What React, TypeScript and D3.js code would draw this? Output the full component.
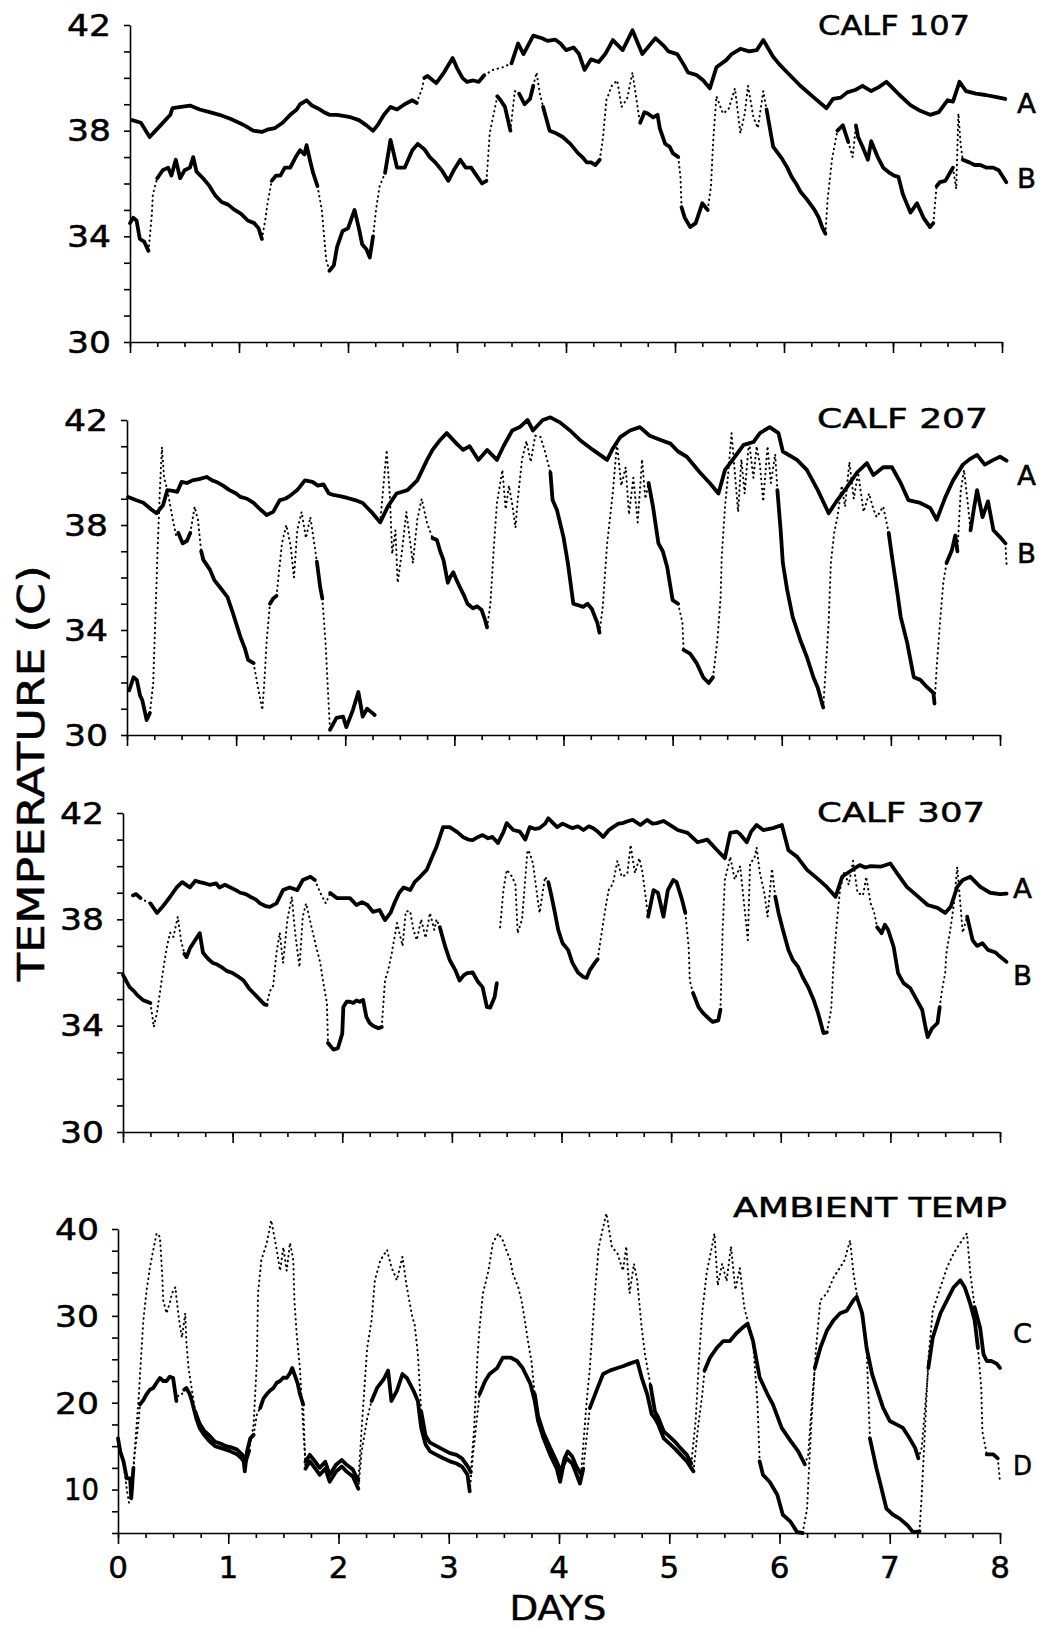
import React, { useRef, useEffect } from "react";
import * as d3 from "d3";

type Pt = [number, number];
type Seg = { k: "s" | "d"; p: Pt[] };

// s = continuous trace, d = sparse dotted trace (fast changes)
const S = (...p: Pt[]): Seg => ({ k: "s", p });
const D = (...p: Pt[]): Seg => ({ k: "d", p });

const days = [0, 1, 2, 3, 4, 5, 6, 7, 8];
const calfTicks = [42, 38, 34, 30];
const ambientTicks = [40, 30, 20, 10];

const calf107A: Seg[] = [
  S([0.02,38.4],[0.1,38.3],[0.18,37.76],[0.28,38.2],[0.37,38.6],[0.39,38.85],[0.47,38.9],[0.55,38.95],[0.64,38.8],[0.73,38.7],[0.82,38.6],[0.92,38.45],[1.0,38.3],[1.05,38.2],[1.13,38.0],[1.21,37.95],[1.27,38.05],[1.33,38.1],[1.4,38.3],[1.47,38.6],[1.53,38.8],[1.56,39.0],[1.62,39.15],[1.67,38.95],[1.72,38.85],[1.78,38.7],[1.83,38.6],[1.9,38.6],[1.97,38.55],[2.03,38.5],[2.1,38.4],[2.17,38.2],[2.23,38.0],[2.27,38.2],[2.33,38.6],[2.39,38.9],[2.45,38.8],[2.52,39.0],[2.59,39.15],[2.63,39.05]),
  D([2.63,39.05],[2.68,39.6],[2.7,40.0]),
  S([2.7,40.0],[2.73,40.07],[2.78,39.9],[2.81,39.8],[2.88,40.2],[2.96,40.75],[3.0,40.37],[3.05,40.0],[3.09,39.85],[3.15,39.9],[3.2,39.85],[3.25,40.1]),
  D([3.25,40.1],[3.33,40.3],[3.42,40.4],[3.5,40.55]),
  S([3.5,40.55],[3.56,41.3],[3.61,40.9],[3.7,41.6],[3.78,41.5],[3.83,41.4],[3.9,41.45],[3.95,41.3],[4.0,41.05],[4.07,41.15],[4.12,40.9],[4.17,40.3],[4.23,40.7],[4.3,40.6],[4.36,40.9],[4.43,41.43],[4.52,41.05],[4.61,41.8],[4.7,40.9],[4.76,41.2],[4.82,41.5],[4.9,41.2],[4.94,41.0],[5.02,40.9],[5.08,40.5],[5.12,40.2],[5.2,40.1],[5.26,39.9],[5.32,39.6],[5.38,40.4],[5.47,40.67],[5.52,40.9],[5.6,41.1],[5.68,41.0],[5.75,41.05],[5.81,41.43],[5.9,40.8],[5.96,40.5],[6.03,40.2],[6.15,39.7],[6.27,39.27],[6.39,38.85],[6.45,39.2],[6.52,39.25],[6.58,39.45],[6.66,39.55],[6.72,39.7],[6.8,39.5],[6.87,39.65],[6.94,39.85],[7.0,39.6],[7.06,39.35],[7.16,38.97],[7.25,38.75],[7.34,38.6],[7.42,38.7],[7.5,39.15],[7.55,39.1],[7.61,39.85],[7.67,39.5],[7.76,39.4],[7.85,39.35],[7.95,39.27],[8.03,39.2]),
];

const calf107B: Seg[] = [
  S([0.0,34.5],[0.03,34.7],[0.06,34.6],[0.09,33.9],[0.13,33.8],[0.17,33.45]),
  D([0.17,33.45],[0.2,34.8],[0.21,35.6],[0.25,36.2]),
  S([0.25,36.2],[0.3,36.5],[0.35,36.6],[0.38,36.3],[0.42,36.9],[0.46,36.2],[0.5,36.5],[0.55,36.6],[0.58,37.0],[0.61,36.45],[0.67,36.2],[0.73,35.9],[0.78,35.56],[0.84,35.3],[0.9,35.2],[0.96,35.0],[1.02,34.85],[1.08,34.6],[1.14,34.5],[1.18,34.3],[1.21,33.9]),
  D([1.21,33.9],[1.24,34.6],[1.26,35.2],[1.3,36.1]),
  S([1.3,36.1],[1.34,36.3],[1.38,36.3],[1.42,36.6],[1.47,36.6],[1.52,37.0],[1.56,37.26],[1.6,37.1],[1.62,37.45],[1.65,36.9],[1.68,36.4],[1.72,35.9]),
  D([1.72,35.9],[1.76,35.0],[1.8,33.1],[1.83,32.7]),
  S([1.83,32.7],[1.87,32.9],[1.9,33.6],[1.95,34.2],[2.0,34.3],[2.06,35.0],[2.1,34.3],[2.13,33.7],[2.17,33.5],[2.2,33.2],[2.23,34.0]),
  D([2.23,34.0],[2.26,35.1],[2.29,35.9],[2.34,36.4]),
  S([2.34,36.4],[2.39,37.65],[2.45,36.6],[2.52,36.6],[2.59,37.26],[2.64,37.5],[2.7,37.3],[2.75,37.0],[2.8,36.8],[2.86,36.5],[2.92,36.1],[2.97,36.5],[3.03,36.9],[3.08,36.6],[3.13,36.6],[3.18,36.3],[3.23,36.0],[3.27,36.1]),
  D([3.27,36.1],[3.29,37.26],[3.3,37.9],[3.33,38.5],[3.37,39.3]),
  S([3.37,39.3],[3.4,39.15],[3.44,38.9],[3.49,38.0]),
  D([3.49,38.0],[3.53,39.5],[3.57,39.4]),
  S([3.57,39.4],[3.62,39.0],[3.67,39.2],[3.7,39.7]),
  D([3.7,39.7],[3.73,40.2],[3.76,39.4],[3.79,38.9]),
  S([3.79,38.9],[3.85,38.0],[3.91,37.9],[3.97,37.76],[4.04,37.5],[4.11,37.15],[4.15,37.0],[4.19,36.8],[4.23,36.8],[4.27,36.7],[4.31,36.9]),
  D([4.31,36.9],[4.34,37.76],[4.37,39.15],[4.42,39.7],[4.47,39.9],[4.51,38.9],[4.56,39.2],[4.61,40.2],[4.66,38.8],[4.68,38.3]),
  S([4.68,38.3],[4.72,38.7],[4.75,38.65],[4.8,38.5],[4.84,38.6],[4.86,38.1],[4.91,37.5],[4.95,37.4],[4.98,37.15],[5.03,37.0]),
  D([5.03,37.0],[5.05,36.25],[5.06,35.1]),
  S([5.06,35.1],[5.09,34.7],[5.14,34.35],[5.19,34.5],[5.25,35.25],[5.3,35.0]),
  D([5.3,35.0],[5.33,35.9],[5.35,37.6],[5.38,39.3],[5.44,38.65],[5.49,38.8],[5.55,39.6],[5.6,37.9],[5.64,38.65],[5.67,39.7],[5.72,38.5],[5.76,38.1],[5.81,39.5],[5.84,38.8]),
  S([5.84,38.8],[5.9,37.4],[5.98,36.95],[6.03,36.6],[6.07,36.25],[6.11,36.0],[6.15,35.7],[6.21,35.4],[6.28,35.0],[6.32,34.7],[6.35,34.35],[6.38,34.1]),
  D([6.38,34.1],[6.4,35.4],[6.44,36.9],[6.49,38.0]),
  S([6.49,38.0],[6.54,38.2],[6.59,37.57]),
  D([6.59,37.57],[6.63,37.0],[6.66,38.2]),
  S([6.66,38.2],[6.68,37.76],[6.72,37.4],[6.77,36.9],[6.8,37.6],[6.83,37.3],[6.86,37.0],[6.91,36.6],[6.97,36.4],[7.01,36.3],[7.05,36.25],[7.09,35.6],[7.13,35.2],[7.16,34.9],[7.22,35.25],[7.28,34.7],[7.34,34.35],[7.37,34.5]),
  D([7.37,34.5],[7.4,35.9]),
  S([7.4,35.9],[7.43,36.05],[7.48,36.1],[7.55,36.6]),
  D([7.55,36.6],[7.58,35.8],[7.6,38.65],[7.62,37.5],[7.64,36.9]),
  S([7.64,36.9],[7.7,36.8],[7.75,36.7],[7.8,36.7],[7.86,36.6],[7.92,36.6],[7.97,36.5],[8.04,36.05]),
];

const calf207A: Seg[] = [
  S([0.01,39.07],[0.08,38.95],[0.15,38.85],[0.22,38.6],[0.27,38.45],[0.33,38.75],[0.37,39.33],[0.42,39.3],[0.46,39.26],[0.5,39.64],[0.55,39.6],[0.6,39.7],[0.66,39.75],[0.73,39.83],[0.78,39.7],[0.82,39.64],[0.88,39.5],[0.94,39.33],[1.0,39.2],[1.04,39.07],[1.1,39.0],[1.16,38.84],[1.22,38.6],[1.28,38.38],[1.34,38.5],[1.4,38.95],[1.45,39.0],[1.49,39.1],[1.56,39.33],[1.63,39.7],[1.7,39.64],[1.75,39.5],[1.8,39.55],[1.85,39.2],[1.89,39.15],[1.95,39.1],[2.02,39.03],[2.09,38.95],[2.16,38.84],[2.25,38.45],[2.32,38.1],[2.39,38.7],[2.47,39.2],[2.57,39.33],[2.66,39.7],[2.75,40.48],[2.8,40.86],[2.87,41.24],[2.93,41.5],[3.02,41.1],[3.08,40.86],[3.14,41.0],[3.22,40.48],[3.3,40.86],[3.39,40.48],[3.45,41.0],[3.53,41.6],[3.6,41.73],[3.67,42.0],[3.72,41.6],[3.81,42.0],[3.88,42.1],[3.97,41.9],[4.06,41.6],[4.15,41.24],[4.27,40.86],[4.4,40.48],[4.45,40.9],[4.52,41.35],[4.61,41.6],[4.7,41.73],[4.79,41.4],[4.89,41.24],[4.98,41.1],[5.05,40.8],[5.13,40.6],[5.25,40.0],[5.34,39.6],[5.42,39.2],[5.48,40.1],[5.55,40.48],[5.65,41.05],[5.74,41.16],[5.8,41.5],[5.89,41.73],[5.97,41.5],[6.01,40.8],[6.14,40.48],[6.23,40.1],[6.33,39.33],[6.43,38.45],[6.51,38.95],[6.6,39.45],[6.69,40.0],[6.78,40.36],[6.84,39.9],[6.93,40.2],[7.01,40.2],[7.09,39.6],[7.16,38.95],[7.27,38.84],[7.36,38.65],[7.42,38.2],[7.5,39.07],[7.57,39.7],[7.66,40.3],[7.72,40.5],[7.79,40.67],[7.86,40.3],[7.94,40.48],[8.0,40.6],[8.06,40.45]),
];

const calf207B: Seg[] = [
  S([0.02,31.7],[0.06,32.2],[0.09,32.1],[0.12,31.5],[0.14,31.33],[0.18,30.57],[0.21,30.84]),
  D([0.21,30.84],[0.24,31.98],[0.26,34.5],[0.28,37.0],[0.3,39.2],[0.32,40.97],[0.34,39.8],[0.37,39.33],[0.42,38.2],[0.45,37.6],[0.47,37.7]),
  S([0.47,37.7],[0.51,37.3],[0.55,37.4],[0.58,37.7]),
  D([0.58,37.7],[0.62,38.7],[0.65,38.2],[0.68,37.0]),
  S([0.68,37.0],[0.7,36.67],[0.76,36.3],[0.8,35.9],[0.85,35.64],[0.92,35.26],[0.97,34.65],[1.04,33.73],[1.08,33.3],[1.11,32.86],[1.16,32.74]),
  D([1.16,32.74],[1.2,31.83],[1.24,30.95],[1.26,32.1],[1.28,33.6],[1.31,35.0]),
  S([1.31,35.0],[1.34,35.2],[1.37,35.3]),
  D([1.37,35.3],[1.42,37.3],[1.46,38.0],[1.5,37.2],[1.53,36.0],[1.56,37.8],[1.6,38.5],[1.64,37.5],[1.68,38.3],[1.72,37.2],[1.74,36.6]),
  S([1.74,36.6],[1.77,35.64],[1.79,35.2]),
  D([1.79,35.2],[1.82,33.5],[1.84,31.8],[1.86,30.2]),
  S([1.86,30.2],[1.92,30.65],[1.98,30.7],[2.01,30.3],[2.07,30.95],[2.12,31.64],[2.16,30.7],[2.2,31.0],[2.23,30.9],[2.27,30.76]),
  D([2.32,38.1],[2.35,39.5],[2.38,40.86],[2.41,39.0],[2.43,36.9],[2.46,37.8],[2.48,35.8],[2.52,37.0],[2.56,38.5],[2.6,37.2],[2.62,36.55],[2.66,38.2],[2.7,39.0],[2.75,38.07],[2.8,37.5]),
  S([2.8,37.5],[2.84,37.43],[2.87,37.0],[2.9,36.67],[2.94,35.8],[2.96,36.0],[2.99,36.2],[3.02,35.9],[3.05,35.64],[3.09,35.3],[3.12,35.0],[3.17,34.83],[3.21,34.9],[3.25,34.76],[3.28,34.4],[3.3,34.1]),
  D([3.3,34.1],[3.33,35.0],[3.36,37.05],[3.39,38.84],[3.44,40.1],[3.47,38.6],[3.5,39.5],[3.53,38.8],[3.56,37.9],[3.58,38.95],[3.62,40.5],[3.66,41.2],[3.7,40.4],[3.74,41.4],[3.79,41.35],[3.83,40.8],[3.88,40.0]),
  S([3.88,40.0],[3.9,38.95],[3.94,38.57],[4.0,37.54],[4.04,36.55],[4.09,35.0],[4.13,34.95],[4.18,34.88],[4.22,35.0],[4.26,34.8],[4.31,34.27],[4.33,33.9]),
  D([4.33,33.9],[4.36,34.9],[4.4,37.3],[4.45,39.15],[4.49,41.1],[4.53,39.5],[4.57,40.2],[4.6,38.4],[4.64,39.8],[4.68,38.1],[4.72,40.5],[4.75,39.0],[4.78,39.6]),
  S([4.78,39.6],[4.82,38.7],[4.87,37.3],[4.91,37.0],[4.95,36.4],[5.0,35.14],[5.05,35.0]),
  D([5.05,35.0],[5.09,34.27],[5.1,33.24]),
  S([5.1,33.24],[5.16,33.1],[5.22,32.74],[5.28,32.2],[5.33,31.98],[5.37,32.2]),
  D([5.37,32.2],[5.41,33.6],[5.44,35.26],[5.45,36.8],[5.48,38.7],[5.51,40.0],[5.54,41.5],[5.57,40.0],[5.6,38.5],[5.63,40.5],[5.66,39.2],[5.7,41.2],[5.74,39.8],[5.77,41.0],[5.8,40.3],[5.83,38.9],[5.87,41.0],[5.9,39.6],[5.94,40.7],[5.96,39.33]),
  S([5.96,39.33],[5.99,37.8],[6.01,36.55],[6.05,35.52],[6.1,34.5],[6.17,33.62],[6.23,32.97],[6.29,32.2],[6.33,31.8],[6.38,31.05]),
  D([6.38,31.05],[6.41,32.97],[6.43,34.3],[6.45,36.55],[6.48,37.7],[6.51,38.3],[6.55,39.5],[6.58,38.7],[6.62,40.4],[6.66,39.0],[6.7,40.0],[6.75,38.5],[6.8,39.2],[6.84,38.6],[6.87,38.3],[6.93,38.7],[6.98,37.7]),
  S([6.98,37.7],[7.01,36.8],[7.06,35.4],[7.09,34.5],[7.15,33.5],[7.21,32.2],[7.27,32.1],[7.33,31.83],[7.39,31.6],[7.4,31.2]),
  D([7.4,31.2],[7.42,32.6],[7.45,34.27],[7.48,35.8],[7.51,36.55]),
  S([7.51,36.55],[7.56,37.05],[7.59,37.6],[7.61,37.0]),
  D([7.61,37.0],[7.64,39.3],[7.67,40.1],[7.7,39.0],[7.73,37.8]),
  S([7.73,37.8],[7.76,38.6],[7.79,39.33],[7.84,38.3],[7.89,38.9],[7.94,37.8],[8.0,37.54],[8.05,37.3]),
  D([8.05,37.3],[8.06,36.5]),
];

const calf307A: Seg[] = [
  S([0.09,38.9],[0.12,38.95],[0.16,38.8]),
  D([0.16,38.8],[0.2,38.7],[0.25,38.6]),
  S([0.25,38.6],[0.31,38.24],[0.36,38.47],[0.43,38.85],[0.49,39.2],[0.54,39.4],[0.61,39.2],[0.66,39.45],[0.7,39.4],[0.75,39.35],[0.79,39.3],[0.85,39.35],[0.88,39.2],[0.93,39.3],[0.98,39.2],[1.03,39.1],[1.07,39.0],[1.12,38.95],[1.16,38.85],[1.21,38.75],[1.25,38.6],[1.3,38.5],[1.34,38.47],[1.4,38.6],[1.46,39.1],[1.52,39.2],[1.59,39.1],[1.64,39.48],[1.71,39.6],[1.75,39.48]),
  D([1.75,39.48],[1.8,39.0],[1.85,38.6],[1.89,38.99]),
  S([1.89,38.99],[1.95,38.8],[2.01,38.8],[2.07,38.8],[2.13,38.54],[2.18,38.65],[2.23,38.54],[2.28,38.28],[2.34,38.35],[2.39,37.97],[2.44,38.24],[2.48,38.65],[2.52,39.0],[2.56,39.2],[2.62,39.1],[2.66,39.4],[2.71,39.6],[2.77,39.86],[2.82,40.35],[2.86,40.73],[2.92,41.47],[2.98,41.47],[3.05,41.28],[3.1,41.1],[3.15,41.0],[3.19,40.98],[3.24,41.1],[3.28,41.17],[3.33,41.05],[3.37,41.1],[3.42,40.87],[3.47,41.28],[3.5,41.62],[3.56,41.36],[3.62,41.3],[3.67,41.0],[3.71,41.47],[3.76,41.4],[3.8,41.43],[3.85,41.6],[3.88,41.8],[3.96,41.47],[4.01,41.6],[4.06,41.5],[4.1,41.43],[4.15,41.5],[4.2,41.36],[4.25,41.5],[4.29,41.43],[4.33,41.3],[4.38,41.1],[4.43,41.35],[4.47,41.47],[4.52,41.6],[4.56,41.62],[4.61,41.7],[4.65,41.74],[4.72,41.55],[4.78,41.74],[4.83,41.6],[4.87,41.62],[4.93,41.7],[4.97,41.6],[5.02,41.47],[5.06,41.36],[5.15,41.25],[5.24,40.9],[5.33,41.0],[5.42,40.6],[5.49,40.3],[5.54,41.25],[5.6,41.3],[5.63,41.2],[5.69,40.9],[5.73,41.3],[5.78,41.55],[5.84,41.36],[5.93,41.43],[6.01,41.55],[6.07,40.6],[6.15,40.35],[6.24,39.86],[6.33,39.55],[6.42,39.22],[6.5,38.85],[6.56,39.6],[6.63,39.8],[6.72,40.04],[6.77,39.95],[6.82,40.0],[6.91,39.98],[7.0,40.1],[7.06,39.74],[7.15,39.22],[7.24,38.9],[7.34,38.54],[7.43,38.43],[7.5,38.24],[7.55,38.47],[7.61,39.22],[7.66,39.48],[7.73,39.6],[7.82,39.22],[7.91,39.0],[8.0,38.95],[8.06,38.97]),
];

const calf307B: Seg[] = [
  S([0.0,35.9],[0.01,35.83],[0.06,35.45],[0.1,35.3],[0.13,35.15],[0.18,34.97],[0.22,34.9],[0.25,34.85]),
  D([0.25,34.85],[0.27,34.3],[0.28,33.95],[0.31,34.5],[0.34,35.34],[0.37,36.2],[0.4,36.96],[0.43,37.5],[0.46,37.34],[0.5,38.1],[0.53,37.2],[0.56,36.7]),
  S([0.56,36.7],[0.58,36.58],[0.61,36.9],[0.64,37.1],[0.7,37.48],[0.73,36.74],[0.78,36.5],[0.82,36.36],[0.86,36.3],[0.91,36.17],[0.95,36.05],[1.0,35.98],[1.05,35.85],[1.1,35.7],[1.15,35.4],[1.19,35.23],[1.25,34.97],[1.29,34.8],[1.31,34.78]),
  D([1.31,34.78],[1.34,35.3],[1.37,35.5],[1.4,36.74],[1.43,37.5],[1.46,36.36],[1.5,38.0],[1.54,38.85],[1.57,37.5],[1.61,36.2],[1.64,38.1],[1.67,38.6],[1.72,37.7],[1.76,37.0],[1.8,36.36],[1.82,35.8],[1.86,34.85],[1.87,33.35]),
  S([1.87,33.35],[1.92,33.1],[1.96,33.15],[2.0,33.7],[2.01,34.7],[2.04,34.9],[2.07,34.9],[2.1,34.85],[2.13,34.95],[2.16,34.9],[2.19,34.97],[2.22,34.33],[2.25,34.1],[2.28,34.0],[2.33,33.9],[2.36,33.95]),
  D([2.36,33.95],[2.39,35.7],[2.42,36.1],[2.45,36.7],[2.5,37.86],[2.55,37.0],[2.58,38.3],[2.62,38.3],[2.65,37.6],[2.68,37.22],[2.72,38.0],[2.76,37.3],[2.8,38.24],[2.84,37.6],[2.86,38.0],[2.89,37.7]),
  S([2.89,37.7],[2.94,36.96],[2.98,36.47],[3.03,36.1],[3.07,35.7],[3.11,35.9],[3.14,35.98],[3.19,36.0],[3.24,35.64],[3.28,35.45],[3.32,34.7],[3.35,34.68],[3.39,35.08],[3.41,35.6]),
  D([3.44,37.7],[3.47,39.1],[3.5,39.86],[3.55,39.6],[3.58,39.3],[3.6,37.48],[3.64,38.0],[3.69,40.6],[3.71,40.5],[3.74,40.1],[3.78,38.85],[3.8,38.24],[3.85,39.6],[3.88,39.4]),
  S([3.88,39.4],[3.91,38.85],[3.94,38.24],[3.97,37.6],[4.01,37.1],[4.06,36.85],[4.1,36.36],[4.15,36.0],[4.2,35.83],[4.23,35.8],[4.26,36.1],[4.31,36.4],[4.33,36.5]),
  D([4.33,36.5],[4.37,37.6],[4.4,38.4],[4.43,39.1],[4.47,39.35],[4.51,40.2],[4.55,39.6],[4.6,39.7],[4.63,40.8],[4.67,39.74],[4.71,40.3],[4.74,39.74],[4.79,38.1]),
  S([4.79,38.1],[4.81,38.5],[4.84,39.1],[4.88,39.0],[4.93,38.1],[4.97,39.1],[5.02,39.48],[5.05,39.4],[5.1,38.73],[5.13,38.24]),
  D([5.13,38.24],[5.16,36.96],[5.17,35.7],[5.2,35.23]),
  S([5.2,35.23],[5.25,34.7],[5.29,34.48],[5.34,34.28],[5.38,34.14],[5.43,34.2],[5.45,34.6]),
  D([5.45,34.6],[5.47,37.6],[5.49,39.48],[5.52,40.0],[5.54,40.35],[5.58,39.5],[5.63,40.0],[5.66,38.8],[5.7,37.22],[5.72,40.1],[5.76,40.3],[5.78,40.7],[5.81,39.74],[5.85,39.0],[5.88,38.1],[5.92,39.9],[5.95,38.85]),
  S([5.95,38.85],[5.98,38.24],[6.02,37.6],[6.07,36.85],[6.11,36.47],[6.16,36.2],[6.2,35.83],[6.25,35.45],[6.3,34.97],[6.34,34.48],[6.39,33.72],[6.42,33.75]),
  D([6.42,33.75],[6.46,34.6],[6.48,36.2],[6.51,37.8],[6.54,39.1],[6.58,39.8],[6.62,39.3],[6.66,40.2],[6.7,39.0],[6.75,38.9],[6.78,39.6],[6.82,38.6],[6.85,38.3],[6.88,37.7]),
  S([6.88,37.7],[6.92,37.48],[6.95,37.8],[6.98,37.6],[7.03,36.96],[7.07,35.98],[7.12,35.6],[7.18,35.42],[7.24,34.97],[7.29,34.6],[7.32,33.95],[7.34,33.57],[7.38,33.9],[7.43,34.1],[7.45,34.7]),
  D([7.45,34.7],[7.47,35.3],[7.5,35.98],[7.51,36.7],[7.55,37.7],[7.58,38.6],[7.61,39.97],[7.64,38.5],[7.66,37.5],[7.7,38.1]),
  S([7.7,38.1],[7.75,37.22],[7.79,37.0],[7.84,37.1],[7.89,36.85],[7.96,36.75],[8.0,36.6],[8.06,36.4]),
];

const ambientC: Seg[] = [
  D([0.02,14.8],[0.06,12.0],[0.08,10.0],[0.1,8.5],[0.13,10.5],[0.16,16.0],[0.19,21.0],[0.2,23.3],[0.23,29.5],[0.26,33.0],[0.29,35.6],[0.32,37.6],[0.35,39.5],[0.38,39.1],[0.4,35.0],[0.41,31.8],[0.44,30.3],[0.47,31.5],[0.49,32.6],[0.52,33.3],[0.54,31.0],[0.56,29.0],[0.58,27.5],[0.61,30.3],[0.62,27.0],[0.64,24.0],[0.67,21.5],[0.7,19.0]),
  S([0.7,19.0],[0.74,17.6],[0.78,16.8],[0.83,16.2],[0.88,15.5],[0.93,15.3],[0.98,15.0],[1.02,14.9],[1.08,14.6],[1.13,14.0],[1.16,13.3],[1.19,14.5]),
  D([1.19,14.5],[1.23,17.5],[1.26,24.8],[1.27,32.6],[1.3,36.4],[1.35,38.4],[1.39,41.0],[1.44,37.6],[1.47,35.2],[1.5,37.9],[1.53,35.2],[1.56,38.4],[1.59,36.4],[1.6,31.8],[1.62,28.0],[1.65,24.0],[1.68,17.1],[1.7,13.2]),
  S([1.7,13.2],[1.74,14.0],[1.79,13.2],[1.83,12.5],[1.88,13.2],[1.92,11.7],[1.98,12.9],[2.03,13.4],[2.07,12.9],[2.13,12.3],[2.18,11.0]),
  D([2.18,11.0],[2.21,17.0],[2.26,26.3],[2.3,29.5],[2.33,34.1],[2.38,36.4],[2.44,37.6],[2.48,35.6],[2.53,34.1],[2.58,36.8],[2.62,33.3],[2.67,29.8],[2.69,29.1],[2.72,25.6],[2.75,19.0]),
  S([2.75,19.0],[2.79,16.2],[2.83,15.4],[2.89,15.0],[2.95,14.6],[3.01,14.2],[3.07,14.0],[3.12,13.6],[3.17,12.7],[3.2,12.0]),
  D([3.2,12.0],[3.23,17.0],[3.26,25.2],[3.28,28.7],[3.31,32.6],[3.36,35.2],[3.4,38.4],[3.45,39.5],[3.49,38.7],[3.53,37.3],[3.56,36.4],[3.58,34.9],[3.63,33.3],[3.66,31.8],[3.69,29.5],[3.72,27.0],[3.75,24.8],[3.78,21.0]),
  S([3.78,21.0],[3.81,18.5],[3.86,16.5],[3.92,14.8],[3.98,13.2],[4.02,12.0],[4.05,13.6],[4.08,14.4],[4.12,13.8],[4.16,12.6],[4.2,11.8]),
  D([4.2,11.8],[4.25,20.0],[4.28,24.0],[4.33,33.3],[4.36,37.9],[4.4,40.2],[4.43,41.8],[4.48,37.9],[4.53,37.2],[4.58,35.2],[4.61,38.0],[4.64,32.6],[4.68,36.0],[4.71,34.0],[4.75,28.6],[4.78,25.6],[4.83,22.0]),
  S([4.83,22.0],[4.87,19.0],[4.9,18.3],[4.95,16.7],[5.01,16.0],[5.06,15.4],[5.1,14.8],[5.16,14.0],[5.2,13.0]),
  D([5.2,13.0],[5.24,18.0],[5.27,25.0],[5.3,30.5],[5.34,35.0],[5.38,37.5],[5.41,39.5],[5.44,33.5],[5.48,36.0],[5.52,34.0],[5.56,38.0],[5.6,33.0],[5.64,35.5],[5.68,31.0],[5.72,29.0],[5.76,27.0],[5.8,20.0],[5.82,13.25]),
  S([5.82,13.25],[5.85,11.7],[5.91,10.9],[5.98,9.4],[6.03,7.1],[6.1,6.3],[6.16,5.1],[6.21,5.0]),
  D([6.21,5.0],[6.25,7.8],[6.27,13.0],[6.3,20.0],[6.33,26.0],[6.37,31.8],[6.43,32.6],[6.49,34.4],[6.55,35.6],[6.59,36.4],[6.64,38.7],[6.67,35.0],[6.7,32.6],[6.76,29.0],[6.79,26.3],[6.82,15.9]),
  S([6.82,15.9],[6.88,12.4],[6.91,10.9],[6.97,7.8],[7.03,7.1],[7.09,6.65],[7.16,5.9],[7.21,5.1],[7.27,5.2]),
  D([7.27,5.2],[7.29,9.4],[7.32,17.0],[7.35,25.0],[7.39,30.6],[7.46,33.3],[7.52,35.6],[7.58,37.2],[7.64,38.4],[7.7,39.5],[7.73,35.0],[7.77,31.0]),
  S([7.77,31.0],[7.82,28.6],[7.85,25.6],[7.88,24.8],[7.92,24.8],[7.97,24.5],[8.0,24.0]),
];

const ambientD: Seg[] = [
  S([0.0,15.9],[0.02,14.4],[0.05,13.25],[0.08,11.3],[0.11,11.3],[0.12,9.0],[0.14,12.5]),
  D([0.14,12.5],[0.15,14.0],[0.18,17.1],[0.2,19.8]),
  S([0.2,19.8],[0.23,20.3],[0.26,21.0],[0.29,21.5],[0.32,21.7],[0.35,22.3],[0.38,22.85],[0.41,22.5],[0.44,22.5],[0.47,23.0],[0.5,22.85],[0.53,20.2]),
  D([0.53,20.2],[0.55,20.9],[0.58,21.0],[0.6,21.5]),
  S([0.6,21.5],[0.62,21.7],[0.65,21.0],[0.67,20.2],[0.71,18.2],[0.74,17.1],[0.78,16.3],[0.83,15.56],[0.88,15.0],[0.93,14.8],[0.98,14.6],[1.02,14.4],[1.08,14.05],[1.12,13.6],[1.14,13.25],[1.15,12.1],[1.17,14.4],[1.2,15.9],[1.23,16.3]),
  D([1.23,16.3],[1.26,18.7],[1.29,19.4]),
  S([1.29,19.4],[1.32,20.5],[1.35,21.0],[1.38,21.4],[1.41,21.7],[1.44,22.3],[1.47,22.5],[1.5,22.9],[1.53,22.85],[1.56,23.4],[1.58,24.0],[1.6,23.3],[1.63,22.2],[1.65,21.0],[1.68,19.8]),
  D([1.68,19.8],[1.69,16.0],[1.7,12.4]),
  S([1.7,12.4],[1.74,13.25],[1.79,12.4],[1.83,11.7],[1.88,12.4],[1.92,10.9],[1.98,12.1],[2.03,12.65],[2.07,12.1],[2.13,11.5],[2.18,10.1]),
  D([2.18,10.1],[2.21,14.4],[2.26,18.2],[2.3,20.2]),
  S([2.3,20.2],[2.35,21.7],[2.41,22.7],[2.45,23.7],[2.48,20.2],[2.53,21.4],[2.58,23.3],[2.62,22.85],[2.68,21.4],[2.72,20.2],[2.75,17.1],[2.79,15.2],[2.83,14.4],[2.89,14.0],[2.95,13.6],[3.01,13.25],[3.07,13.0],[3.12,12.65],[3.17,11.7],[3.19,9.8]),
  D([3.19,9.8],[3.22,14.05],[3.26,18.7],[3.28,21.0]),
  S([3.28,21.0],[3.33,22.5],[3.37,23.3],[3.44,24.0],[3.49,25.2],[3.56,25.2],[3.62,24.8],[3.67,24.0],[3.74,22.2],[3.78,20.2],[3.81,17.9],[3.86,15.9],[3.92,14.0],[3.98,12.4],[4.01,10.9],[4.04,12.8],[4.07,13.6],[4.12,13.0],[4.16,11.7],[4.19,10.7],[4.22,12.4]),
  D([4.22,12.4],[4.25,15.9],[4.28,19.4]),
  S([4.28,19.4],[4.34,21.4],[4.4,23.3],[4.46,23.7],[4.53,24.0],[4.58,24.2],[4.64,24.5],[4.71,24.8],[4.75,22.9],[4.8,21.0],[4.84,18.7],[4.87,18.2],[4.9,17.5],[4.95,15.9],[5.01,15.2],[5.06,14.6],[5.1,14.05],[5.16,13.25],[5.22,12.1]),
  D([5.22,12.1],[5.26,17.1],[5.3,21.0],[5.32,23.7]),
  S([5.32,23.7],[5.37,25.2],[5.43,26.3],[5.49,27.1],[5.55,27.1],[5.61,28.0],[5.67,28.7],[5.71,29.1],[5.76,27.1],[5.82,22.9],[5.89,21.0],[5.94,19.8],[6.02,17.1],[6.1,15.6],[6.17,14.4],[6.23,12.9]),
  D([6.23,12.9],[6.26,14.0],[6.29,19.4],[6.32,24.0]),
  S([6.32,24.0],[6.37,26.3],[6.43,28.3],[6.49,29.5],[6.55,30.3],[6.61,30.6],[6.67,31.8],[6.7,32.2],[6.75,30.3],[6.79,26.3],[6.84,23.3],[6.88,21.7],[6.94,19.4],[7.0,17.9],[7.06,17.5],[7.12,17.1],[7.18,15.9],[7.23,14.8],[7.26,13.6]),
  D([7.26,13.6],[7.29,14.8],[7.32,19.4],[7.35,24.0]),
  S([7.35,24.0],[7.39,27.5],[7.46,30.3],[7.52,31.8],[7.58,33.3],[7.64,34.1],[7.68,33.3],[7.73,31.4],[7.77,29.5],[7.8,26.3]),
  D([7.8,26.3],[7.83,21.7],[7.84,16.7],[7.88,14.05]),
  S([7.88,14.05],[7.94,14.05],[7.98,13.6]),
  D([7.98,13.6],[8.0,10.9]),
];

// page layout of the four stacked panels (pixel frame of each plot)
const panels = [
  { title: "CALF 107", tx: 818, ty: 35, tl: 152, left: 130, right: 1002, top: 25, bottom: 342,
    domain: [30, 42], step: 1, ticks: calfTicks, xLabels: false,
    series: [{ name: "A", data: calf107A, ly: 113 }, { name: "B", data: calf107B, ly: 188 }] },
  { title: "CALF 207", tx: 817, ty: 428, tl: 171, left: 127, right: 1000, top: 420, bottom: 735,
    domain: [30, 42], step: 1, ticks: calfTicks, xLabels: false,
    series: [{ name: "A", data: calf207A, ly: 485 }, { name: "B", data: calf207B, ly: 563 }] },
  { title: "CALF 307", tx: 817, ty: 822, tl: 168, left: 123, right: 1000, top: 813, bottom: 1132,
    domain: [30, 42], step: 1, ticks: calfTicks, xLabels: false,
    series: [{ name: "A", data: calf307A, ly: 898 }, { name: "B", data: calf307B, ly: 985 }] },
  { title: "AMBIENT TEMP", tx: 733, ty: 1217, tl: 274, left: 118, right: 1000, top: 1229, bottom: 1533,
    domain: [5, 40], step: 2.5, ticks: ambientTicks, xLabels: true,
    series: [{ name: "C", data: ambientC, ly: 1343 }, { name: "D", data: ambientD, ly: 1475 }] },
];

const FONT = "DejaVu Sans, Verdana, sans-serif";

const App = () => {
  const svgRef = useRef<SVGSVGElement>(null);
  const width = 1044;
  const height = 1627;

  useEffect(() => {
    const svg = d3.select(svgRef.current);
    svg.selectAll("*").remove();

    svg.append("rect").attr("width", width).attr("height", height).attr("fill", "#fff");

    // slightly heavier lettering, like the hand-lettered original
    const letter = (sel: any, size: number) =>
      sel
        .attr("font-family", FONT)
        .attr("font-size", size)
        .attr("fill", "#000")
        .attr("stroke", "#000")
        .attr("stroke-width", 0.5);

    panels.forEach((p) => {
      const x = d3.scaleLinear().domain([0, 8]).range([p.left, p.right]);
      const y = d3.scaleLinear().domain(p.domain).range([p.bottom, p.top]);
      const g = svg.append("g");

      // y axis, a tick at every step
      const yAx = g
        .append("g")
        .attr("transform", `translate(${p.left},0)`)
        .call(
          d3.axisLeft(y)
            .tickValues(d3.range(p.domain[0], p.domain[1] + 0.001, p.step))
            .tickSize(6)
            .tickSizeOuter(0)
            .tickFormat(() => "")
        );
      yAx.selectAll("path, line").attr("stroke", "#000").attr("stroke-width", 1.6);

      letter(
        g.selectAll(null)
          .data(p.ticks)
          .join("text")
          .attr("x", p.left - 19)
          .attr("y", (d) => y(d))
          .attr("dy", "0.36em")
          .attr("text-anchor", "end")
          .attr("textLength", (d) => (String(d).startsWith("1") ? 35 : 44))
          .attr("lengthAdjust", "spacingAndGlyphs")
          .text((d) => d),
        30
      );

      // x axis: quarter-day minor ticks, day major ticks
      const xMinor = g
        .append("g")
        .attr("transform", `translate(0,${p.bottom})`)
        .call(d3.axisBottom(x).tickValues(d3.range(0, 8.001, 0.25)).tickSize(5).tickSizeOuter(0).tickFormat(() => ""));
      const xMajor = g
        .append("g")
        .attr("transform", `translate(0,${p.bottom})`)
        .call(d3.axisBottom(x).tickValues(days).tickSize(11).tickSizeOuter(0).tickFormat(() => ""));
      xMajor.select(".domain").remove();
      xMinor.selectAll("path, line").attr("stroke", "#000").attr("stroke-width", 1.6);
      xMajor.selectAll("line").attr("stroke", "#000").attr("stroke-width", 1.6);

      if (p.xLabels) {
        letter(
          g.selectAll(null)
            .data(days)
            .join("text")
            .attr("x", (d) => x(d))
            .attr("y", p.bottom + 45)
            .attr("text-anchor", "middle")
            .text((d) => d),
          31
        );
      }

      // traces
      const line = d3
        .line<Pt>()
        .x((d) => x(d[0]))
        .y((d) => y(d[1]));

      p.series.forEach((s) => {
        g.append("g")
          .selectAll("path")
          .data(s.data)
          .join("path")
          .attr("d", (seg) => line(seg.p))
          .attr("fill", "none")
          .attr("stroke", "#000")
          .attr("stroke-width", (seg) => (seg.k === "s" ? 3.8 : 2))
          .attr("stroke-dasharray", (seg) => (seg.k === "s" ? null : "0.5 4.5"))
          .attr("stroke-linecap", "round")
          .attr("stroke-linejoin", "round");

        letter(
          g.append("text")
            .attr("x", p.left > 125 ? 1017 : 1013)
            .attr("y", s.ly)
            .attr("textLength", 19)
            .attr("lengthAdjust", "spacingAndGlyphs")
            .text(s.name),
          27
        );
      });

      letter(
        g.append("text")
          .attr("x", p.tx)
          .attr("y", p.ty)
          .attr("textLength", p.tl)
          .attr("lengthAdjust", "spacingAndGlyphs")
          .text(p.title),
        27
      );
    });

    letter(
      svg
        .append("text")
        .attr("transform", "translate(44,773) rotate(-90)")
        .attr("text-anchor", "middle")
        .attr("textLength", 416)
        .attr("lengthAdjust", "spacingAndGlyphs")
        .text("TEMPERATURE (C)"),
      38
    );

    letter(
      svg
        .append("text")
        .attr("x", 558)
        .attr("y", 1620)
        .attr("text-anchor", "middle")
        .attr("textLength", 97)
        .attr("lengthAdjust", "spacingAndGlyphs")
        .text("DAYS"),
      34
    );
  }, []);

  return (
    <div style={{ position: "absolute", left: 0, top: 0 }}>
      <svg ref={svgRef} width={width} height={height} style={{ display: "block" }}></svg>
    </div>
  );
};

export default App;
